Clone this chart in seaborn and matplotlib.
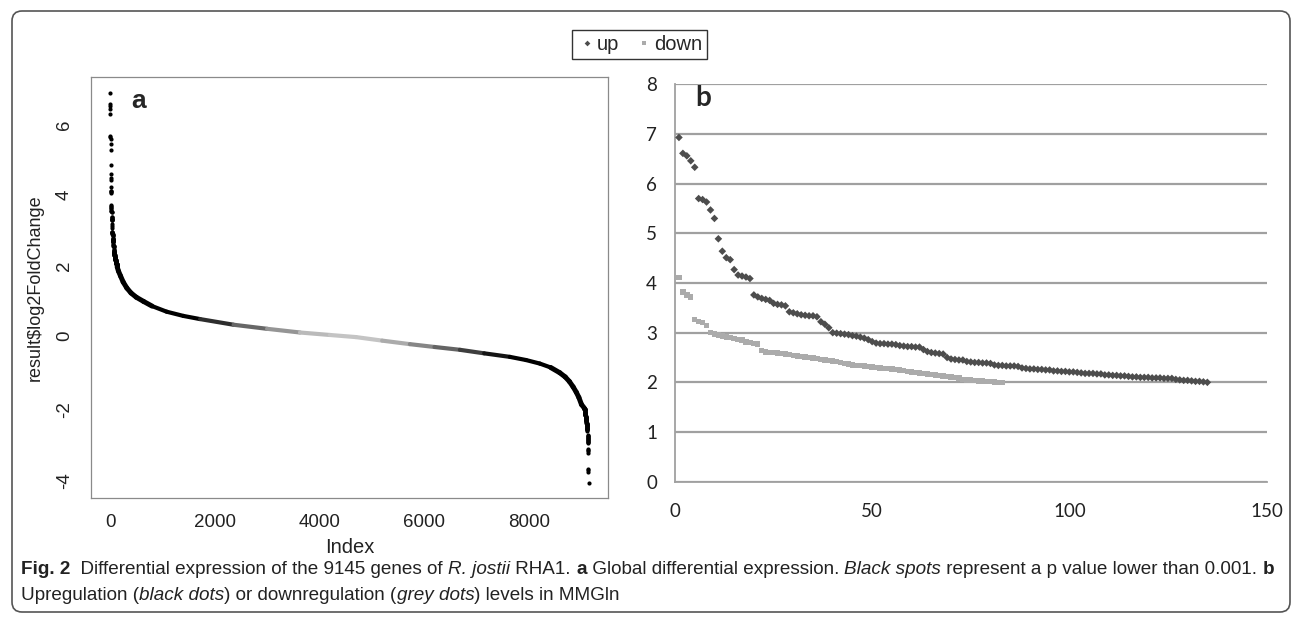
import numpy as np
import pandas as pd
import matplotlib
matplotlib.use("Agg")
import matplotlib.pyplot as plt
import seaborn as sns
from matplotlib.colors import LinearSegmentedColormap, Normalize
from matplotlib.patches import FancyBboxPatch

# --- 1. Data ---
n_genes = 9145

# panel b: upregulated genes (log2 fold change, ranked)
up_vals = [6.93, 6.61, 6.56, 6.46, 6.33, 5.70, 5.68, 5.63, 5.47, 5.30,
           4.89, 4.64, 4.51, 4.47, 4.27, 4.16, 4.14, 4.12, 4.09,
           3.76, 3.72, 3.69, 3.67, 3.65, 3.59, 3.57, 3.56, 3.54,
           3.42, 3.40, 3.38, 3.36, 3.35, 3.34, 3.34, 3.32,
           3.22, 3.17, 3.10,
           3.00, 2.99, 2.98, 2.97, 2.96, 2.94, 2.93, 2.91, 2.89, 2.86,
           2.82,
           2.79, 2.78, 2.78, 2.77, 2.77, 2.76,
           2.74, 2.73, 2.72, 2.72, 2.71, 2.71,
           2.66, 2.62,
           2.60, 2.59, 2.58, 2.57,
           2.50,
           2.47, 2.46, 2.45, 2.45,
           2.42, 2.41, 2.40, 2.40, 2.39, 2.39, 2.38,
           2.35, 2.34, 2.34, 2.33, 2.33, 2.33, 2.32,
           2.29, 2.28, 2.27, 2.27, 2.26, 2.26, 2.25, 2.25,
           2.23, 2.23, 2.22, 2.22, 2.21, 2.21, 2.20,
           2.19, 2.18, 2.18, 2.18, 2.17, 2.17,
           2.15, 2.15, 2.14, 2.14, 2.13, 2.13,
           2.12, 2.11, 2.11, 2.10, 2.10, 2.10, 2.09, 2.09, 2.09, 2.08, 2.08, 2.08,
           2.06, 2.05, 2.04, 2.04, 2.03,
           2.02, 2.02, 2.01, 2.00]

# panel b: downregulated genes (absolute log2 fold change, ranked)
down_vals = [4.11, 3.82, 3.76, 3.72,
             3.26, 3.22, 3.20, 3.15,
             3.00, 2.97, 2.95, 2.93, 2.91, 2.90, 2.88, 2.86, 2.85, 2.81, 2.80, 2.78, 2.77,
             2.64, 2.61, 2.60, 2.60, 2.59, 2.58, 2.57, 2.56, 2.54, 2.53, 2.52, 2.51,
             2.50, 2.49, 2.48, 2.46, 2.45, 2.44, 2.43, 2.42, 2.40, 2.38, 2.37,
             2.35, 2.34, 2.34, 2.33, 2.32, 2.31, 2.30, 2.29, 2.28, 2.28, 2.27,
             2.26, 2.25, 2.24, 2.22, 2.21, 2.20, 2.19, 2.18, 2.17, 2.16,
             2.15, 2.14, 2.13, 2.12, 2.11, 2.10, 2.09,
             2.06, 2.05, 2.05, 2.04, 2.03, 2.03, 2.02, 2.02, 2.01, 2.00, 2.00]

# panel a: the dense middle of the sorted curve (index, log2FC)
curve_idx = [135, 160, 200, 250, 320, 400, 500, 640, 800, 1080, 1400, 1720,
             2360, 3000, 3630, 4200, 4700, 5200, 5730, 6200, 6685, 7150,
             7640, 7950, 8213, 8420, 8595, 8700, 8780, 8850, 8910, 8960,
             9010, 9063]
curve_val = [2.00, 1.88, 1.74, 1.57, 1.40, 1.26, 1.14, 1.02, 0.89, 0.73, 0.61, 0.52,
             0.36, 0.245, 0.14, 0.07, 0.01, -0.09, -0.19, -0.27, -0.35, -0.45,
             -0.55, -0.64, -0.74, -0.85, -1.00, -1.12, -1.25, -1.40, -1.55, -1.70,
             -1.90, -2.00]

x_ticks_a = [0, 2000, 4000, 6000, 8000]
y_ticks_a = [-4, -2, 0, 2, 4, 6]
x_ticks_b = [0, 50, 100, 150]
y_ticks_b = [0, 1, 2, 3, 4, 5, 6, 7, 8]

# --- 2. Frames ---
df_b = pd.concat([
    pd.DataFrame({'rank': np.arange(1, len(up_vals) + 1), 'value': up_vals, 'series': 'up'}),
    pd.DataFrame({'rank': np.arange(1, len(down_vals) + 1), 'value': down_vals, 'series': 'down'}),
], ignore_index=True)

# the extreme genes of panel a are the same genes as panel b
df_a = pd.concat([
    pd.DataFrame({'index': np.arange(1, len(up_vals) + 1), 'lfc': up_vals}),
    pd.DataFrame({'index': np.arange(n_genes - len(down_vals) + 1, n_genes + 1),
                  'lfc': [-v for v in down_vals[::-1]]}),
], ignore_index=True)

# --- 3. Plot ---
sns.set_style("white")
plt.rcParams['font.family'] = ['Liberation Sans', 'DejaVu Sans']
plt.rcParams['axes.unicode_minus'] = False

W, H = 1298, 619
fig = plt.figure(figsize=(W / 100, H / 100), dpi=100)

ax_a = fig.add_axes([91 / W, 1 - 497.7 / H, 516.7 / W, 420.4 / H])
ax_b = fig.add_axes([675 / W, 1 - 481.7 / H, 591.5 / W, 397.4 / H])

# a) sorted log2 fold change, grey where not significant
sig_cmap = LinearSegmentedColormap.from_list('sig', ['#c4c4c4', 'black'])
sig_norm = Normalize(0.08, 0.55)
for i in range(len(curve_idx) - 1):
    mag = (abs(curve_val[i]) + abs(curve_val[i + 1])) / 2
    lw = 3.6 if mag > 0.9 else 3.0
    ax_a.plot(curve_idx[i:i + 2], curve_val[i:i + 2], color=sig_cmap(sig_norm(mag)),
              lw=lw, solid_capstyle='round', zorder=2)
sns.scatterplot(data=df_a, x='index', y='lfc', color='black', s=9, linewidth=0,
                ax=ax_a, legend=False, zorder=3)

ax_a.set_xlim(-365, 9511)
ax_a.set_ylim(-4.54, 7.37)
ax_a.set_xticks(x_ticks_a)
ax_a.set_yticks(y_ticks_a)
for sp in ax_a.spines.values():
    sp.set_color('#8a8a8a')
    sp.set_linewidth(0.9)
ax_a.tick_params(direction='out', length=5, width=0.8, color='#8a8a8a',
                 labelsize=13.5, labelcolor='#222222')
ax_a.tick_params(axis='x', pad=7)
ax_a.tick_params(axis='y', labelrotation=90, pad=8)
ax_a.set_xlabel('Index', fontsize=14.5, color='#222222')
ax_a.set_ylabel(r'result\$log2FoldChange', fontsize=13, color='#222222')
ax_a.xaxis.set_label_coords(0.5, -0.097)
ax_a.yaxis.set_label_coords(-0.092, 0.5)
ax_a.text(0.093, 0.944, 'a', transform=ax_a.transAxes, fontsize=19, fontweight='bold',
          ha='center', va='center')

# b) up / down regulation levels
sns.scatterplot(data=df_b, x='rank', y='value', hue='series', style='series',
                markers={'up': 'D', 'down': 's'},
                palette={'up': '#4d4d4d', 'down': '#ababab'},
                s=15, linewidth=0, ax=ax_b, zorder=3)
ax_b.set_xlim(0, 150)
ax_b.set_ylim(0, 8)
ax_b.set_xticks(x_ticks_b)
ax_b.set_yticks(y_ticks_b)
ax_b.yaxis.grid(True, color='#a0a0a0', lw=1.6)
ax_b.set_axisbelow(True)
for side in ['top', 'right']:
    ax_b.spines[side].set_visible(False)
for side in ['left', 'bottom']:
    ax_b.spines[side].set_color('#a0a0a0')
    ax_b.spines[side].set_linewidth(1.3)
ax_b.tick_params(direction='out', length=5, width=1.2, color='#a0a0a0',
                 labelsize=13.5, labelcolor='#222222')
ax_b.tick_params(axis='x', pad=10)
ax_b.tick_params(axis='y', pad=8)
for lab in ax_b.get_xticklabels() + ax_b.get_yticklabels():
    lab.set_family('Lato')
ax_b.set_xlabel('')
ax_b.set_ylabel('')
ax_b.text(0.047, 0.966, 'b', transform=ax_b.transAxes, fontsize=20, fontweight='bold',
          family='Lato', ha='center', va='center')

sns.move_legend(ax_b, 'center', bbox_to_anchor=(639.5 / W, 1 - 44.5 / H),
                bbox_transform=fig.transFigure, ncol=2, title=None, frameon=True,
                fancybox=False, fontsize=14.5, handletextpad=0.0, columnspacing=0.7,
                borderpad=0.25, markerscale=0.75, handlelength=1.0)
leg = ax_b.get_legend()
leg.get_frame().set_edgecolor('black')
leg.get_frame().set_linewidth(1.0)

# outer rounded frame
fig.patches.append(FancyBboxPatch((0.12, 0.07), 12.78, 6.01,
                                  boxstyle='round,pad=0,rounding_size=0.1',
                                  transform=fig.dpi_scale_trans, fill=False,
                                  ec='#555555', lw=1.2))

# --- 4. Caption with mixed styles ---
cap_family = ['Liberation Sans Narrow', 'Liberation Sans']
renderer = fig.canvas.get_renderer()


def text_width(s, size, weight, style):
    kw = dict(fontsize=size, fontweight=weight, fontstyle=style, family=cap_family)
    t1 = fig.text(0, 0, '|' + s + '|', **kw)
    t0 = fig.text(0, 0, '||', **kw)
    w = t1.get_window_extent(renderer).width - t0.get_window_extent(renderer).width
    t1.remove()
    t0.remove()
    return w


def draw_runs(runs, x_px, y_px, size):
    for s, weight, style in runs:
        fig.text(x_px / W, 1 - y_px / H, s, fontsize=size, fontweight=weight,
                 fontstyle=style, family=cap_family, color='#222222',
                 ha='left', va='baseline')
        x_px += text_width(s, size, weight, style)


line1 = [('Fig. 2', 'bold', 'normal'),
         ('  Differential expression of the 9145 genes of ', 'normal', 'normal'),
         ('R. jostii', 'normal', 'italic'),
         (' RHA1. ', 'normal', 'normal'),
         ('a', 'bold', 'normal'),
         (' Global differential expression. ', 'normal', 'normal'),
         ('Black spots', 'normal', 'italic'),
         (' represent a p value lower than 0.001. ', 'normal', 'normal'),
         ('b', 'bold', 'normal')]
line2 = [('Upregulation (', 'normal', 'normal'),
         ('black dots', 'normal', 'italic'),
         (') or downregulation (', 'normal', 'normal'),
         ('grey dots', 'normal', 'italic'),
         (') levels in MMGln', 'normal', 'normal')]

base = sum(text_width(s, 10, w, st) for s, w, st in line1)
cap_size = 10 * 1262 / base
draw_runs(line1, 21, 574, cap_size)
draw_runs(line2, 21, 600, cap_size)

plt.savefig('out.png', dpi=100)
